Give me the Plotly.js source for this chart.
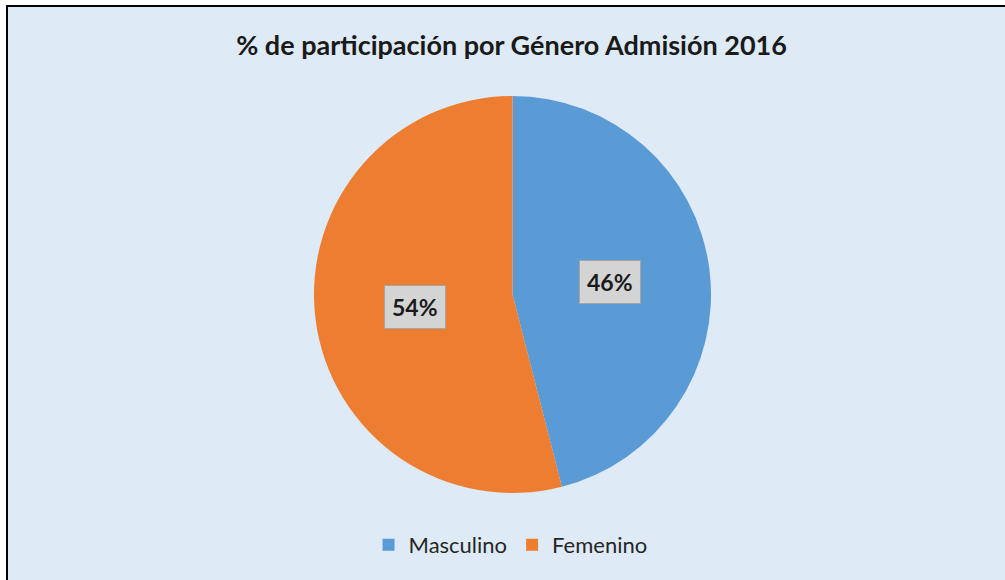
<!DOCTYPE html>
<html>
<head>
<meta charset="utf-8">
<script src="https://cdn.plot.ly/plotly-3.0.1.min.js"></script>
<style>html,body{margin:0;padding:0;background:#fff;}#chart{width:1005px;height:580px;}</style>
</head>
<body>
<div id="chart"></div>
<script>
const categories = ["Masculino", "Femenino"];
const values = [46, 54];
const colors = ["#5B9BD5", "#ED7D31"];
const titleText = "% de participación por Género Admisión 2016";

const W = 1005, H = 580;
const dom = {x: [314 / W, 711 / W], y: [1 - 493 / H, 1 - 96 / H]};
const cx = (dom.x[0] + dom.x[1]) / 2, cy = (dom.y[0] + dom.y[1]) / 2;
const rPx = Math.min((dom.x[1] - dom.x[0]) * W, (dom.y[1] - dom.y[0]) * H) / 2;

const total = values.reduce((a, b) => a + b, 0);
let cum = 0;
const annotations = values.map((v, i) => {
  const mid = (cum + v / 2) / total * 2 * Math.PI;
  cum += v;
  const rr = 0.495 * rPx;
  return {
    xref: "paper", yref: "paper",
    x: cx + rr * Math.sin(mid) / W,
    y: cy + rr * Math.cos(mid) / H,
    xanchor: "center", yanchor: "middle",
    text: "<b>" + Math.round(v / total * 100) + "%</b>",
    showarrow: false,
    font: {family: "Lato, sans-serif", size: 23, color: "#1a1a1a"},
    bgcolor: "#D4D4D4",
    bordercolor: "#A5A5A5",
    borderwidth: 1,
    borderpad: 7
  };
});

const data = [{
  type: "pie",
  labels: categories,
  values: values,
  marker: {colors: colors, line: {width: 0}},
  sort: false,
  direction: "clockwise",
  rotation: 0,
  textinfo: "none",
  hoverinfo: "label+percent",
  domain: dom
}];

const layout = {
  width: W, height: H,
  margin: {l: 0, r: 0, t: 0, b: 0},
  paper_bgcolor: "#ffffff",
  title: {
    text: "<b>" + titleText + "</b>",
    font: {family: "Lato, sans-serif", size: 27, color: "#1a1a1a"},
    x: 0.509, xanchor: "center",
    y: 1 - 46 / H, yanchor: "middle"
  },
  showlegend: true,
  legend: {
    orientation: "h",
    x: 0.508, xanchor: "center",
    y: 1 - 545 / H, yanchor: "middle",
    font: {family: "Lato, sans-serif", size: 22, color: "#262626"},
    bgcolor: "rgba(0,0,0,0)"
  },
  shapes: [{
    type: "rect", xref: "paper", yref: "paper", layer: "below",
    x0: 7 / W, x1: 1.02, y0: -0.02, y1: 1 - 6 / H,
    fillcolor: "#DEEAF6",
    line: {color: "#000000", width: 2}
  }],
  annotations: annotations
};

Plotly.newPlot("chart", data, layout, {displayModeBar: false, staticPlot: true});
</script>
</body>
</html>
